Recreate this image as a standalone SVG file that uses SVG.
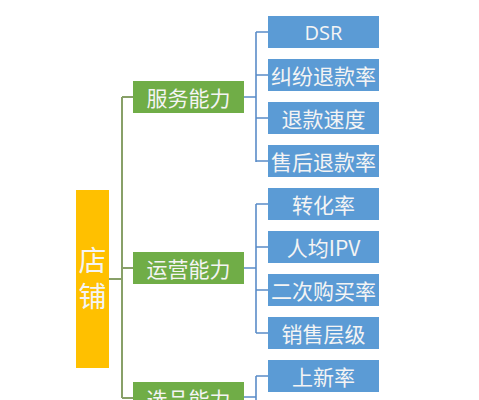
<svg xmlns="http://www.w3.org/2000/svg" width="479" height="400" viewBox="0 0 479 400">
<style>
.root{fill:#FFC000}
.mid{fill:#70AD47}
.leaf{fill:#5B9BD5}
text{fill:#F4F4F4;font-family:"Noto Sans CJK SC","Noto Sans",sans-serif;font-size:21px;text-anchor:middle;dominant-baseline:central}
.rt{font-size:28px}
.lat{font-family:"Open Sans","Noto Sans",sans-serif;font-size:20px}
.gl{stroke:#88A068;stroke-width:2;fill:none}
.bl{stroke:#5A8CC8;stroke-width:1.6;fill:none}
</style>
<rect width="479" height="400" fill="#FFFFFF"/>
<g id="connectors">
<path class="gl" d="M109 279H122M122 97V398M122 97H133M122 268H133M122 398H133"/>
<path class="bl" d="M244 97H256M256 32V162M256 32H268M256 75H268M256 118H268M256 161H268"/>
<path class="bl" d="M244 268H256M256 204V333M256 204H268M256 247H268M256 290H268M256 333H268"/>
<path class="bl" d="M244 397H256M256 376V400M256 376H268"/>
</g>
<g id="n-root"><rect class="root" x="76" y="190" width="33" height="178"/><text class="rt" x="92.5" y="259">店</text><text class="rt" x="92.5" y="295">铺</text></g>
<g id="n-service"><rect class="mid" x="133" y="81" width="111" height="32"/><text x="188.5" y="97">服务能力</text></g>
<g id="n-operation"><rect class="mid" x="133" y="252" width="111" height="32"/><text x="188.5" y="268">运营能力</text></g>
<g id="n-selection"><rect class="mid" x="133" y="382" width="111" height="32"/><text x="188.5" y="398">选品能力</text></g>
<g id="n-dsr"><rect class="leaf" x="268" y="16" width="111" height="32"/><text class="lat" x="323.5" y="32">DSR</text></g>
<g id="n-dispute"><rect class="leaf" x="268" y="59" width="111" height="32"/><text x="323.5" y="75">纠纷退款率</text></g>
<g id="n-refundspeed"><rect class="leaf" x="268" y="102" width="111" height="32"/><text x="323.5" y="118">退款速度</text></g>
<g id="n-aftersale"><rect class="leaf" x="268" y="145" width="111" height="32"/><text x="323.5" y="161">售后退款率</text></g>
<g id="n-conversion"><rect class="leaf" x="268" y="188" width="111" height="32"/><text x="323.5" y="204">转化率</text></g>
<g id="n-ipv"><rect class="leaf" x="268" y="231" width="111" height="32"/><text x="323.5" y="247">人均IPV</text></g>
<g id="n-repurchase"><rect class="leaf" x="268" y="274" width="111" height="32"/><text x="323.5" y="290">二次购买率</text></g>
<g id="n-saleslevel"><rect class="leaf" x="268" y="317" width="111" height="32"/><text x="323.5" y="333">销售层级</text></g>
<g id="n-newrate"><rect class="leaf" x="268" y="360" width="111" height="32"/><text x="323.5" y="376">上新率</text></g>
</svg>
